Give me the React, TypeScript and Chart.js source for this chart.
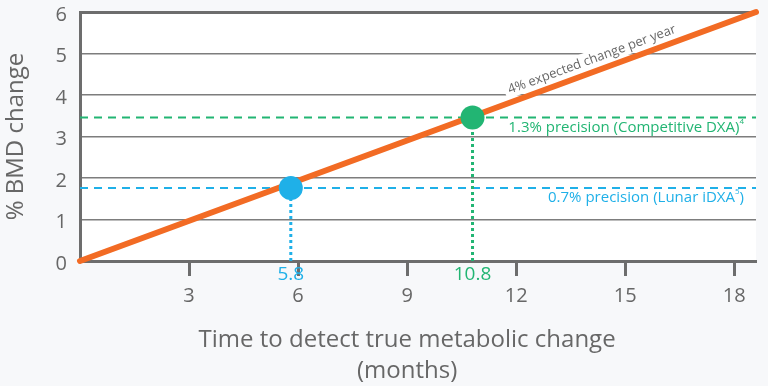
import React, { useEffect, useRef } from 'react';
import { Chart, registerables } from 'chart.js';

Chart.register(...registerables);

// ---- data ----
const xTickValues = [3, 6, 9, 12, 15, 18];
const yTickValues = [0, 1, 2, 3, 4, 5, 6];
const xMin = 0;
const xMax = 18.6;
const yMin = 0;
const yMax = 6;
const trendX = [0, 18.6];
const trendY = [0, 6];
const trendLabel = '4% expected change per year';
const trendLabelAtX = 14.2;
const precisionLevels = [1.76, 3.46]; // Lunar iDXA, Competitive DXA
const detectMonths = [5.8, 10.8];
const detectLabels = ['5.8', '10.8'];
const precisionLabelMain = ['0.7% precision (Lunar iDXA', '1.3% precision (Competitive DXA)'];
const precisionLabelSup = ['5', '4'];
const precisionLabelTail = [')', ''];
const yTitle = '% BMD change';
const xTitleLines = ['Time to detect true metabolic change', '(months)'];

// ---- styles ----
const FONT = '"Open Sans", "Noto Sans", sans-serif';
const ORANGE = '#f26b24';
const BLUE = '#1fb0e8';
const GREEN = '#22b573';
const AXIS = '#6d6d6d';
const GRID = '#7d7d7d';
const TEXT = '#676767';
const seriesColors = [BLUE, GREEN];

const annotPlugin = {
  id: 'annot',
  beforeDraw(chart: any) {
    const { ctx, chartArea: a, width, height } = chart;
    ctx.save();
    ctx.fillStyle = '#f7f8fa';
    ctx.fillRect(0, 0, width, height);
    ctx.fillStyle = '#ffffff';
    ctx.fillRect(a.left, a.top, a.right - a.left, a.bottom - a.top);
    ctx.restore();
  },
  beforeDatasetsDraw(chart: any) {
    const { ctx } = chart;
    const xs = chart.scales.x;
    const ys = chart.scales.y;
    const x0 = xs.getPixelForValue(trendX[0]);
    const y0 = ys.getPixelForValue(trendY[0]);
    const x1 = xs.getPixelForValue(trendX[1]);
    const y1 = ys.getPixelForValue(trendY[1]);
    const ang = Math.atan2(y1 - y0, x1 - x0);
    const t = (trendLabelAtX - trendX[0]) / (trendX[1] - trendX[0]);
    const px = x0 + (x1 - x0) * t;
    const py = y0 + (y1 - y0) * t;
    ctx.save();
    ctx.translate(px, py);
    ctx.rotate(ang);
    ctx.font = `13px ${FONT}`;
    const w = ctx.measureText(trendLabel).width;
    ctx.fillStyle = '#ffffff';
    ctx.fillRect(-w / 2 - 4, -21, w + 8, 17);
    ctx.fillStyle = TEXT;
    ctx.textAlign = 'center';
    ctx.textBaseline = 'middle';
    ctx.fillText(trendLabel, 0, -12);
    ctx.restore();
  },
  afterDraw(chart: any) {
    const { ctx, chartArea: a } = chart;
    const xs = chart.scales.x;
    const ys = chart.scales.y;
    ctx.save();
    // precision labels
    for (let i = 0; i < precisionLevels.length; i++) {
      const yy = ys.getPixelForValue(precisionLevels[i]) + 10;
      let xr = a.right - 12;
      ctx.fillStyle = seriesColors[i];
      ctx.textBaseline = 'middle';
      ctx.textAlign = 'right';
      ctx.font = `15px ${FONT}`;
      if (precisionLabelTail[i]) {
        ctx.fillText(precisionLabelTail[i], xr, yy);
        xr -= ctx.measureText(precisionLabelTail[i]).width;
      }
      ctx.font = `8px ${FONT}`;
      ctx.fillText(precisionLabelSup[i], xr, yy - 6);
      xr -= ctx.measureText(precisionLabelSup[i]).width;
      ctx.font = `15px ${FONT}`;
      ctx.fillText(precisionLabelMain[i], xr, yy);
    }
    // detection month labels
    ctx.font = `19px ${FONT}`;
    ctx.textAlign = 'center';
    ctx.textBaseline = 'middle';
    for (let i = 0; i < detectMonths.length; i++) {
      ctx.fillStyle = seriesColors[i];
      ctx.fillText(detectLabels[i], xs.getPixelForValue(detectMonths[i]), a.bottom + 14);
    }
    // x title
    const cx = (xs.getPixelForValue(xMin) + xs.getPixelForValue(xTickValues[xTickValues.length - 1])) / 2;
    ctx.font = `24px ${FONT}`;
    ctx.fillStyle = TEXT;
    xTitleLines.forEach((line, k) => {
      ctx.fillText(line, cx, a.bottom + 79 + k * 31);
    });
    ctx.restore();
  },
};

export default function App() {
  const ref = useRef<HTMLCanvasElement | null>(null);
  useEffect(() => {
    document.body.style.margin = '0';
    document.body.style.background = '#f7f8fa';
    const canvas = ref.current;
    if (!canvas) return;
    const datasets: any[] = [];
    // dots
    datasets.push({
      type: 'scatter',
      data: detectMonths.map((m, i) => ({ x: m, y: precisionLevels[i] })),
      pointRadius: 12,
      pointHoverRadius: 12,
      pointBackgroundColor: seriesColors,
      pointBorderWidth: 0,
      order: 0,
      clip: false,
    });
    // trend line
    datasets.push({
      type: 'line',
      data: trendX.map((x, i) => ({ x, y: trendY[i] })),
      borderColor: ORANGE,
      borderWidth: 6,
      borderCapStyle: 'round',
      pointRadius: 0,
      order: 1,
      clip: false,
    });
    // dotted verticals
    detectMonths.forEach((m, i) => {
      datasets.push({
        type: 'line',
        data: [{ x: m, y: yMin }, { x: m, y: precisionLevels[i] }],
        borderColor: seriesColors[i],
        borderWidth: 3,
        borderDash: [3, 3],
        pointRadius: 0,
        order: 2,
        clip: false,
      });
    });
    // dashed horizontals
    precisionLevels.forEach((lvl, i) => {
      datasets.push({
        type: 'line',
        data: [{ x: xMin, y: lvl }, { x: xMax, y: lvl }],
        borderColor: seriesColors[i],
        borderWidth: 2,
        borderDash: [8, 6],
        pointRadius: 0,
        order: 3,
      });
    });

    const chart = new Chart(canvas, {
      type: 'line',
      data: { datasets },
      plugins: [annotPlugin],
      options: {
        animation: false,
        responsive: false,
        events: [],
        layout: { padding: { top: 12, right: 10, left: 0, bottom: 0 } },
        plugins: { legend: { display: false }, tooltip: { enabled: false } },
        scales: {
          x: {
            type: 'linear',
            min: xMin,
            max: xMax,
            afterBuildTicks: (s: any) => {
              s.ticks = xTickValues.map((v) => ({ value: v }));
            },
            afterFit: (s: any) => {
              s.height = 125;
              s.paddingLeft = 0;
              s.paddingRight = 0;
            },
            border: { display: true, color: AXIS, width: 3 },
            grid: {
              drawOnChartArea: false,
              drawTicks: true,
              tickLength: 15,
              tickWidth: 3,
              tickColor: AXIS,
            },
            ticks: {
              color: TEXT,
              font: { family: FONT, size: 20 },
              padding: 8,
              maxRotation: 0,
              autoSkip: false,
            },
          },
          y: {
            type: 'linear',
            min: yMin,
            max: yMax,
            afterBuildTicks: (s: any) => {
              s.ticks = yTickValues.map((v) => ({ value: v }));
            },
            afterFit: (s: any) => {
              s.width = 80;
              s.paddingTop = 0;
              s.paddingBottom = 0;
            },
            border: { display: true, color: AXIS, width: 3 },
            grid: {
              drawTicks: false,
              color: (c: any) => (c.tick && c.tick.value === yMax ? AXIS : GRID),
              lineWidth: (c: any) => (c.tick && c.tick.value === yMax ? 3 : c.tick && c.tick.value === yMin ? 0 : 1.5),
            },
            ticks: {
              color: TEXT,
              font: { family: FONT, size: 20 },
              padding: 13,
              labelOffset: 3,
            },
            title: {
              display: true,
              text: yTitle,
              color: TEXT,
              font: { family: FONT, size: 24 },
              padding: { top: 2, bottom: 0 },
            },
          },
        },
      } as any,
    });
    return () => chart.destroy();
  }, []);
  return (
    <div style={{ width: 768, height: 386 }}>
      <canvas ref={ref} width={768} height={386} style={{ display: 'block' }} />
    </div>
  );
}
